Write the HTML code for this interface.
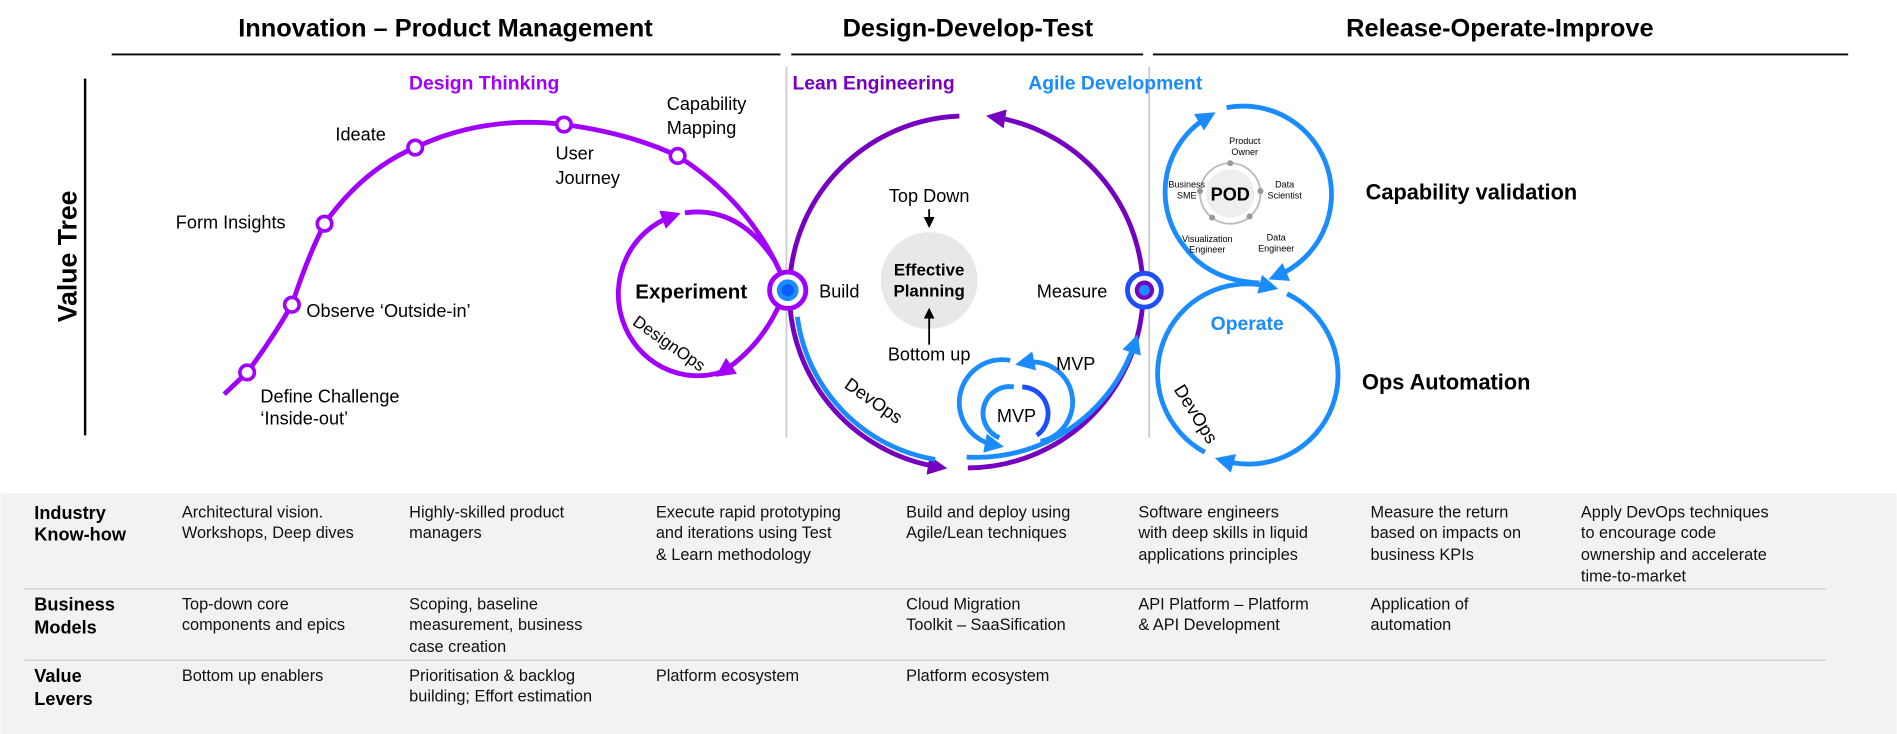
<!DOCTYPE html>
<html><head><meta charset="utf-8"><style>
html,body{margin:0;padding:0;background:#fff;width:1897px;height:734px;overflow:hidden}
svg{display:block}
text{font-family:"Liberation Sans",Arial,sans-serif}
</style></head><body>
<svg width="1897" height="734" viewBox="0 0 1568 607" xmlns="http://www.w3.org/2000/svg">
<defs>
<marker id="ap" viewBox="0 0 10 10" refX="5" refY="5" markerWidth="4" markerHeight="4" orient="auto-start-reverse"><path d="M0,0 L10,5 L0,10 z" fill="#a100ff"/></marker>
<marker id="ad" viewBox="0 0 10 10" refX="5" refY="5" markerWidth="4" markerHeight="4" orient="auto-start-reverse"><path d="M0,0 L10,5 L0,10 z" fill="#7500c0"/></marker>
<marker id="ab" viewBox="0 0 10 10" refX="5" refY="5" markerWidth="4" markerHeight="4" orient="auto-start-reverse"><path d="M0,0 L10,5 L0,10 z" fill="#1a8cff"/></marker>
<marker id="ak" viewBox="0 0 10 10" refX="5" refY="5" markerWidth="6" markerHeight="6" orient="auto"><path d="M0,0 L10,5 L0,10 z" fill="#000"/></marker>
</defs>

<g font-weight="bold" font-size="21" text-anchor="middle" fill="#000">
<text x="368" y="30">Innovation – Product Management</text>
<text x="800" y="30">Design-Develop-Test</text>
<text x="1240" y="30">Release-Operate-Improve</text>
</g>
<g stroke="#000" stroke-width="1.5">
<line x1="92" y1="45" x2="645" y2="45"/>
<line x1="654" y1="45" x2="945" y2="45"/>
<line x1="953" y1="45" x2="1528" y2="45"/>
<line x1="70" y1="65" x2="70" y2="360" stroke-width="2"/>
</g>
<g stroke="#ccc" stroke-width="1.5">
<line x1="650" y1="55" x2="650" y2="362"/>
<line x1="950" y1="55" x2="950" y2="362"/>
</g>
<text x="0" y="0" transform="translate(63,212) rotate(-90)" font-size="22" font-weight="bold" text-anchor="middle">Value Tree</text>

<g font-weight="bold" font-size="16">
<text x="400" y="74" fill="#a100ff" text-anchor="middle">Design Thinking</text>
<text x="655" y="74" fill="#7500c0">Lean Engineering</text>
<text x="850" y="74" fill="#1a8cff">Agile Development</text>
</g>

<path d="M185,326 L204,308 Q225,280 241,252 Q255,210 268,185 Q300,140 343,122 Q400,95 466,103 Q520,110 560,129 Q625,170 651,240" fill="none" stroke="#a100ff" stroke-width="4"/>
<g fill="#fff" stroke="#a100ff" stroke-width="3">
<circle cx="204" cy="308" r="6"/><circle cx="241" cy="252" r="6"/><circle cx="268" cy="185" r="6"/>
<circle cx="343" cy="122" r="6"/><circle cx="466" cy="103" r="6"/><circle cx="560" cy="129" r="6"/>
</g>
<g font-size="15" fill="#000">
<text x="215" y="333">Define Challenge</text><text x="215" y="351">‘Inside-out’</text>
<text x="253" y="262">Observe ‘Outside-in’</text>
<text x="145" y="189">Form Insights</text>
<text x="277" y="116">Ideate</text>
<text x="459" y="132">User</text><text x="459" y="152">Journey</text>
<text x="551" y="91">Capability</text><text x="551" y="111">Mapping</text>
</g>

<path d="M555,179 A60,62 0 0 0 598,307" fill="none" stroke="#a100ff" stroke-width="4" marker-start="url(#ap)"/>
<path d="M598,307 Q630,285 645,250" fill="none" stroke="#a100ff" stroke-width="4" marker-start="url(#ap)"/>
<path d="M566,176 Q610,170 640,215" fill="none" stroke="#a100ff" stroke-width="4"/>
<text x="525" y="247" font-size="17" font-weight="bold">Experiment</text>
<text x="0" y="0" transform="translate(522,268) rotate(35)" font-size="14">DesignOps</text>

<path d="M793,96 A146,146 0 0 0 775,386" fill="none" stroke="#7500c0" stroke-width="4" marker-end="url(#ad)"/>
<path d="M800,387 A146,146 0 0 0 823,97" fill="none" stroke="#7500c0" stroke-width="4" marker-end="url(#ad)"/>
<path d="M659,262 A138,138 0 0 0 773,380" fill="none" stroke="#1a8cff" stroke-width="4"/>
<path d="M799,378 A138,138 0 0 0 938,284" fill="none" stroke="#1a8cff" stroke-width="4" marker-end="url(#ab)"/>
<text x="0" y="0" transform="translate(697,320) rotate(35)" font-size="15">DevOps</text>

<circle cx="651" cy="240" r="15" fill="#fff" stroke="#a100ff" stroke-width="4"/>
<circle cx="651" cy="240" r="9" fill="#1a8cff"/><circle cx="651" cy="240" r="5" fill="#0a5cff"/>
<circle cx="946" cy="240" r="14" fill="#fff" stroke="#1e4cff" stroke-width="4"/>
<circle cx="946" cy="240" r="8" fill="#7500c0"/><circle cx="946" cy="240" r="4.5" fill="#1a8cff"/>

<g font-size="15">
<text x="677" y="246">Build</text>
<text x="857" y="246">Measure</text>
<text x="768" y="167" text-anchor="middle">Top Down</text>
<text x="768" y="298" text-anchor="middle">Bottom up</text>
</g>
<circle cx="768" cy="232" r="40" fill="#e8e8e8"/>
<text x="768" y="228" font-size="14" font-weight="bold" text-anchor="middle">Effective</text>
<text x="768" y="245" font-size="14" font-weight="bold" text-anchor="middle">Planning</text>
<line x1="768" y1="173" x2="768" y2="184" stroke="#000" stroke-width="1.5" marker-end="url(#ak)"/>
<line x1="768" y1="285" x2="768" y2="259" stroke="#000" stroke-width="1.5" marker-end="url(#ak)"/>

<path d="M835,298 A35,35 0 0 0 822,368" fill="none" stroke="#1a8cff" stroke-width="4" marker-end="url(#ab)"/>
<path d="M847,300 A33,33 0 0 1 860,365" fill="none" stroke="#1a8cff" stroke-width="4" marker-start="url(#ab)"/>
<path d="M838,320 A22,22 0 0 0 826,362" fill="none" stroke="#1a8cff" stroke-width="4"/>
<path d="M845,320 A22,22 0 0 1 857,360" fill="none" stroke="#1e4cff" stroke-width="4"/>
<g font-size="15"><text x="873" y="306">MVP</text><text x="824" y="349">MVP</text></g>

<!-- right loops -->
<path d="M1014,89 A73,73 0 0 1 1056,228" fill="none" stroke="#1a8cff" stroke-width="4" marker-end="url(#ab)"/>
<path d="M1041,234 Q1000,232 980,205 A72,72 0 0 1 998,97" fill="none" stroke="#1a8cff" stroke-width="4" marker-end="url(#ab)"/>
<path d="M1064,243 A74,74 0 0 1 1012,381" fill="none" stroke="#1a8cff" stroke-width="4" marker-end="url(#ab)"/>
<path d="M996,374 A74,74 0 0 1 1049,237" fill="none" stroke="#1a8cff" stroke-width="4" marker-end="url(#ab)"/>
<text x="1031" y="273" font-size="16" font-weight="bold" fill="#1a8cff" text-anchor="middle">Operate</text>
<text x="0" y="0" transform="translate(970,322) rotate(58)" font-size="15">DevOps</text>

<circle cx="1017" cy="160" r="25" fill="#fff" stroke="#bbb" stroke-width="1.5"/>
<circle cx="1017" cy="160" r="20" fill="#eee"/>
<g fill="#999"><circle cx="1017" cy="135" r="2.5"/><circle cx="992" cy="158" r="2.5"/><circle cx="1042" cy="158" r="2.5"/><circle cx="1002" cy="180" r="2.5"/><circle cx="1033" cy="179" r="2.5"/></g>
<text x="1017" y="166" font-size="15" font-weight="bold" text-anchor="middle">POD</text>
<g font-size="7.5" text-anchor="middle">
<text x="1029" y="119">Product</text><text x="1029" y="128">Owner</text>
<text x="981" y="155">Business</text><text x="981" y="164">SME</text>
<text x="1062" y="155">Data</text><text x="1062" y="164">Scientist</text>
<text x="998" y="200">Visualization</text><text x="998" y="209">Engineer</text>
<text x="1055" y="199">Data</text><text x="1055" y="208">Engineer</text>
</g>
<g font-size="18" font-weight="bold">
<text x="1129" y="165">Capability validation</text>
<text x="1126" y="322">Ops Automation</text>
</g>

<rect x="0" y="408" width="1568" height="199" fill="#f2f2f2"/>
<g stroke="#ccc" stroke-width="1"><line x1="20" y1="487" x2="1510" y2="487"/><line x1="20" y1="546" x2="1510" y2="546"/></g>
<g font-size="15" font-weight="bold">
<text x="28" y="429">Industry</text><text x="28" y="447">Know-how</text>
<text x="28" y="505">Business</text><text x="28" y="524">Models</text>
<text x="28" y="564">Value</text><text x="28" y="583">Levers</text>
</g>
<g font-size="13.5" fill="#111">
<text x="150" y="428">Architectural vision.</text><text x="150" y="445">Workshops, Deep dives</text>
<text x="338" y="428">Highly-skilled product</text><text x="338" y="445">managers</text>
<text x="542" y="428">Execute rapid prototyping</text><text x="542" y="445">and iterations using Test</text><text x="542" y="463">&amp; Learn methodology</text>
<text x="749" y="428">Build and deploy using</text><text x="749" y="445">Agile/Lean techniques</text>
<text x="941" y="428">Software engineers</text><text x="941" y="445">with deep skills in liquid</text><text x="941" y="463">applications principles</text>
<text x="1133" y="428">Measure the return</text><text x="1133" y="445">based on impacts on</text><text x="1133" y="463">business KPIs</text>
<text x="1307" y="428">Apply DevOps techniques</text><text x="1307" y="445">to encourage code</text><text x="1307" y="463">ownership and accelerate</text><text x="1307" y="481">time-to-market</text>
<text x="150" y="504">Top-down core</text><text x="150" y="521">components and epics</text>
<text x="338" y="504">Scoping, baseline</text><text x="338" y="521">measurement, business</text><text x="338" y="539">case creation</text>
<text x="749" y="504">Cloud Migration</text><text x="749" y="521">Toolkit – SaaSification</text>
<text x="941" y="504">API Platform – Platform</text><text x="941" y="521"> &amp; API Development</text>
<text x="1133" y="504">Application of</text><text x="1133" y="521">automation</text>
<text x="150" y="563">Bottom up enablers</text>
<text x="338" y="563">Prioritisation &amp; backlog</text><text x="338" y="580">building; Effort estimation</text>
<text x="542" y="563">Platform ecosystem</text>
<text x="749" y="563">Platform ecosystem</text>
</g>
</svg>
</body></html>
